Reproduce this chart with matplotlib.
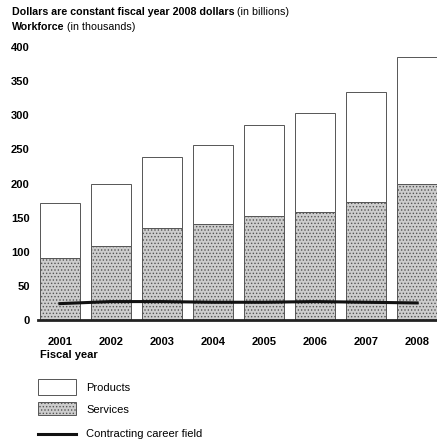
import numpy as np
import matplotlib.pyplot as plt
from matplotlib.patches import Rectangle
from matplotlib.lines import Line2D

plt.rcParams['font.family'] = ['Liberation Sans', 'DejaVu Sans']
plt.rcParams['hatch.color'] = '#8e8e8e'
plt.rcParams['hatch.linewidth'] = 0.6

years = ['2001', '2002', '2003', '2004', '2005', '2006', '2007', '2008']
services = [91, 108, 135, 141, 153, 158, 173, 200]
total = [172, 199, 239, 256, 286, 304, 334, 386]
products = [t - s for t, s in zip(total, services)]
workforce = [24, 27, 27, 26, 26, 27, 26, 25]
yticks = [0, 50, 100, 150, 200, 250, 300, 350, 400]

W, H = 437, 444
fig = plt.figure(figsize=(W / 100, H / 100), dpi=100)


def fx(px):
    return px / W


def fy(py):
    return 1 - py / H


GRAY = '#cdcdcd'
ax = fig.add_axes([fx(38), fy(320), fx(437) - fx(38), fy(47) - fy(320)])
x = np.arange(len(years))
ax.bar(x, services, width=0.78, color=GRAY, edgecolor='#555555',
       linewidth=0.7, hatch='.....', clip_on=False)
ax.bar(x, products, bottom=services, width=0.78, color='white',
       edgecolor='#555555', linewidth=0.7, clip_on=False)
ax.plot(x, workforce, color='#111111', lw=2.2, clip_on=False)
ax.axhline(0, color='#222222', lw=2.0, clip_on=False)

ax.set_xlim(-0.43, 7.39)
ax.set_ylim(0, 400)
for s in ax.spines.values():
    s.set_visible(False)
ax.set_yticks(yticks)
ax.set_yticklabels([str(v) for v in yticks], fontsize=8, fontweight='bold')
ax.set_xticks(x)
ax.set_xticklabels(years, fontsize=8, fontweight='bold')
ax.tick_params(axis='y', length=0, pad=6)
ax.tick_params(axis='x', length=0, pad=12)

fig.text(fx(40), fy(355), 'Fiscal year', fontsize=8, fontweight='bold',
         va='center', ha='left')

# title lines (bold part + regular part)
t1 = fig.text(fx(12), fy(12), 'Dollars are constant fiscal year 2008 dollars',
              fontsize=7.7, fontweight='bold', va='center', ha='left')
ax.annotate(' (in billions)', xy=(1, 0), xycoords=t1, va='bottom',
            fontsize=7.7, annotation_clip=False)
t2 = fig.text(fx(12), fy(27), 'Workforce', fontsize=7.7, fontweight='bold',
              va='center', ha='left')
ax.annotate(' (in thousands)', xy=(1, 0), xycoords=t2, va='bottom',
            fontsize=7.7, annotation_clip=False)

# legend
fig.add_artist(Rectangle((fx(38), fy(395)), fx(76) - fx(38), fy(379) - fy(395),
                         transform=fig.transFigure, facecolor='white',
                         edgecolor='#555555', lw=0.7))
fig.add_artist(Rectangle((fx(38), fy(415)), fx(76) - fx(38), fy(402) - fy(415),
                         transform=fig.transFigure, facecolor=GRAY,
                         edgecolor='#555555', lw=0.7, hatch='.....'))
fig.add_artist(Line2D([fx(38), fx(76)], [fy(434), fy(434)],
                      transform=fig.transFigure, color='#111111', lw=2.2))
for label, py in [('Products', 388), ('Services', 410),
                  ('Contracting career field', 434)]:
    fig.text(fx(86), fy(py), label, fontsize=8, va='center', ha='left')

fig.savefig('out.png', dpi=100)
